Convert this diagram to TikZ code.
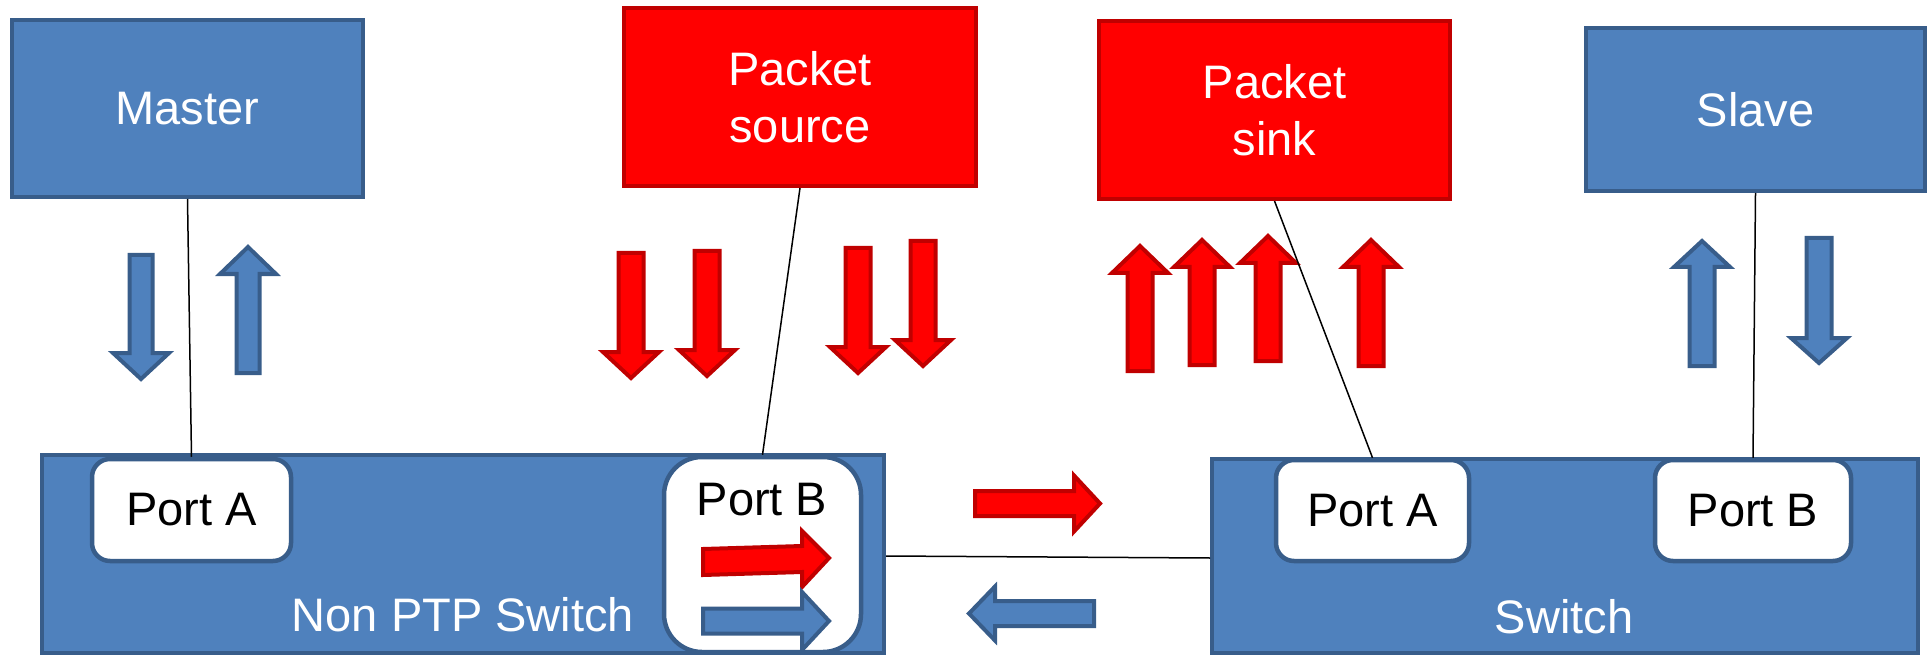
\documentclass[tikz,border=0pt]{standalone}
\usepackage{fontspec}
\setmainfont{Liberation Sans}
\definecolor{bfill}{RGB}{79,129,189}
\definecolor{bline}{RGB}{56,93,138}
\definecolor{rfill}{RGB}{255,0,0}
\definecolor{rline}{RGB}{192,0,0}
\newcommand{\vArrow}[7]{%
  \draw[#1] ({#2-#3},#5) -- ({#2+#3},#5) -- ({#2+#3},#6) -- ({#2+#4},#6) -- (#2,#7) -- ({#2-#4},#6) -- ({#2-#3},#6) -- cycle;}
\newcommand{\hArrow}[7]{%
  \draw[#1] (#5,{#2-#3}) -- (#6,{#2-#3}) -- (#6,{#2-#4}) -- (#7,#2) -- (#6,{#2+#4}) -- (#6,{#2+#3}) -- (#5,{#2+#3}) -- cycle;}
\tikzset{
  bluebox/.style={draw=bline, fill=bfill, line width=4pt, inner sep=0pt, text=white, align=center},
  redbox/.style={draw=rline, fill=rfill, line width=4pt, inner sep=0pt, text=white, align=center},
  portbox/.style={draw=bline, fill=white, line width=4.5pt, inner sep=0pt, rounded corners=18pt, text=black},
  bigfont/.style={font=\fontsize{47}{57}\selectfont},
  blueArr/.style={draw=bline, fill=bfill, line width=4pt, miter limit=4},
  redArr/.style={draw=rline, fill=rfill, line width=4pt, miter limit=4},
  wire/.style={draw=black, line width=1.5pt},
}
\begin{document}
\begin{tikzpicture}[x=1pt, y=-1pt, bigfont]
\useasboundingbox (0,0) rectangle (1929,660);
% top boxes
\node[bluebox, minimum width=351, minimum height=177] (master) at (187.5,108.5) {Master};
\node[redbox, minimum width=352, minimum height=178] (psrc) at (800,97) {Packet\\source};
\node[redbox, minimum width=351, minimum height=178] (psink) at (1274.5,110) {Packet\\sink};
\node[bluebox, minimum width=339, minimum height=163] (slave) at (1755.5,109.5) {Slave};
% switches
\node[bluebox, minimum width=842, minimum height=198] (nonptp) at (463,554) {};
\node[text=white] (nonptptxt) at (463,615) {Non PTP Switch};
\node[portbox, minimum width=199, minimum height=102] (pA1) at (191.5,510) {Port A};
\node[portbox, rounded corners=38pt, minimum width=197, minimum height=195] (pB1) at (762.5,554.5) {};
\node (pB1txt) at (762,500) {Port B};
\node[bluebox, minimum width=706, minimum height=194] (sw) at (1565,556) {};
\node[text=white] (swtxt) at (1564,617) {Switch};
\node[portbox, minimum width=193, minimum height=101] (pA2) at (1372.5,510.5) {Port A};
\node[portbox, minimum width=196, minimum height=101] (pB2) at (1753,510.5) {Port B};
% block arrows
\vArrow{blueArr}{141}{11.5}{28}{255}{353}{379}
\vArrow{blueArr}{248}{11.5}{28}{373}{274}{247}
\vArrow{redArr}{631}{12.5}{28}{253}{352}{378}
\vArrow{redArr}{707}{12.5}{28}{251}{350}{376}
\vArrow{redArr}{858}{12.5}{28}{248}{347}{373}
\vArrow{redArr}{923}{12.5}{28}{241}{340}{366}
\vArrow{redArr}{1140}{12.5}{28}{371}{273}{246}
\vArrow{redArr}{1202}{12.5}{28}{365}{267}{240}
\vArrow{redArr}{1268}{12.5}{28}{361}{263}{236}
\vArrow{redArr}{1371}{12.5}{28}{366}{267}{240}
\vArrow{blueArr}{1702}{12.5}{28}{366}{267}{241}
\vArrow{blueArr}{1819}{12.5}{28}{238}{338}{363}
\hArrow{redArr}{503.5}{12.5}{28}{975}{1074}{1100}
\hArrow{blueArr}{613.5}{12.5}{27}{1094}{995}{969}
% arrows inside Port B
\draw[redArr] (703,549) -- (802,546) -- (802,531) -- (829,558) -- (802,587) -- (802,572) -- (703,575) -- cycle;
\hArrow{blueArr}{621}{12.5}{29}{703}{802}{829}
% wires
\draw[wire] (master.south) -- (pA1.north);
\draw[wire] (psrc.south) -- (pB1.north);
\draw[wire] (psink.south) -- (pA2.north);
\draw[wire] (slave.south) -- (pB2.north);
\draw[wire] ([yshift=-2pt]nonptp.east) -- ([yshift=-2pt]sw.west);
\end{tikzpicture}
\end{document}
